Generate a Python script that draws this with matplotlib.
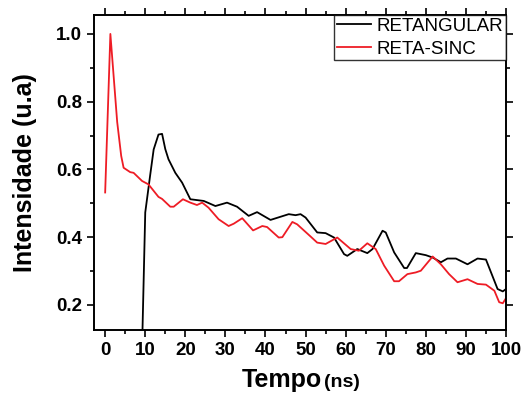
import matplotlib
matplotlib.use("Agg")
import matplotlib.pyplot as plt
from matplotlib.ticker import MultipleLocator

plt.rcParams['font.family'] = ['Liberation Sans', 'DejaVu Sans']

# RETANGULAR (black)
t_ret = [9.0, 9.3, 10.0, 11.25, 12.1, 13.3, 14.2, 15.0, 15.8, 17.5, 19.2, 21.25, 24.6,
         27.5, 30.4, 32.9, 35.8, 37.9, 41.25, 45.8, 47.5, 48.75, 50.0, 52.9, 55.0,
         57.1, 59.6, 60.4, 62.9, 65.4, 66.7, 69.2, 70.0, 72.1, 74.6, 75.3, 77.5,
         80.0, 81.7, 83.75, 85.4, 87.5, 90.4, 92.9, 95.0, 97.9, 99.2, 100.0]
i_ret = [0.02, 0.12, 0.473, 0.585, 0.659, 0.703, 0.705, 0.66, 0.63, 0.59, 0.561, 0.512, 0.507,
         0.492, 0.502, 0.49, 0.463, 0.474, 0.451, 0.468, 0.465, 0.468, 0.458, 0.414, 0.412,
         0.399, 0.35, 0.345, 0.365, 0.353, 0.365, 0.419, 0.414, 0.355, 0.309, 0.309, 0.353,
         0.347, 0.34, 0.326, 0.337, 0.337, 0.32, 0.337, 0.334, 0.247, 0.24, 0.247]

# RETA-SINC (red)
t_sinc = [0.0, 1.3, 3.0, 4.0, 4.6, 6.25, 7.1, 9.2, 10.8, 13.3, 14.2, 16.25, 17.1, 19.4,
          21.25, 22.9, 24.2, 25.8, 28.3, 30.8, 32.1, 34.2, 36.9, 39.2, 40.4, 43.3, 44.2,
          46.7, 47.9, 51.25, 52.9, 55.0, 57.9, 61.25, 63.3, 65.4, 67.5, 69.6, 72.1, 73.3,
          75.4, 77.5, 78.75, 81.7, 83.75, 85.8, 87.9, 90.4, 92.9, 95.0, 97.1, 98.3,
          99.2, 100.0]
i_sinc = [0.532, 1.0, 0.74, 0.64, 0.605, 0.592, 0.59, 0.566, 0.556, 0.519, 0.513, 0.49, 0.49, 0.512,
          0.502, 0.495, 0.502, 0.487, 0.453, 0.433, 0.44, 0.456, 0.42, 0.433, 0.43, 0.399, 0.40,
          0.445, 0.438, 0.402, 0.384, 0.38, 0.399, 0.365, 0.36, 0.382, 0.365, 0.316, 0.27, 0.27,
          0.291, 0.296, 0.301, 0.343, 0.32, 0.291, 0.267, 0.276, 0.262, 0.26, 0.242, 0.208,
          0.205, 0.22]

fig = plt.figure(figsize=(5.23, 3.94), dpi=100)
ax = fig.add_axes([0.18, 0.1624, 0.7875, 0.7996])

ax.plot(t_ret, i_ret, color='black', lw=1.3, label='RETANGULAR')
ax.plot(t_sinc, i_sinc, color='#ee1c25', lw=1.3, label='RETA-SINC')

ax.set_xlim(-2.75, 100)
ax.set_ylim(0.126, 1.056)
ax.xaxis.set_major_locator(MultipleLocator(10))
ax.xaxis.set_minor_locator(MultipleLocator(5))
ax.yaxis.set_major_locator(MultipleLocator(0.2))
ax.yaxis.set_minor_locator(MultipleLocator(0.1))
ax.yaxis.set_major_formatter(matplotlib.ticker.FormatStrFormatter('%.1f'))

ax.tick_params(which='both', direction='out', width=1.2, top=True, right=True)
ax.tick_params(which='major', length=5, labelsize=13.5)
ax.tick_params(which='minor', length=3)
for lab in ax.get_xticklabels() + ax.get_yticklabels():
    lab.set_fontweight('bold')
for s in ax.spines.values():
    s.set_linewidth(1.4)

ax.set_ylabel('Intensidade (u.a)', fontsize=18, fontweight='bold', labelpad=14)
ax.text(0.553, -0.181, 'Tempo', transform=ax.transAxes, fontsize=18, fontweight='bold',
        ha='right', va='baseline')
ax.text(0.558, -0.181, '(ns)', transform=ax.transAxes, fontsize=14, fontweight='bold',
        ha='left', va='baseline')

leg = ax.legend(loc='upper right', fontsize=13.5, frameon=True, fancybox=False,
                borderpad=0.15, handlelength=1.8, handletextpad=0.3, labelspacing=0.3,
                borderaxespad=0)
leg.get_frame().set_edgecolor('black')
leg.get_frame().set_linewidth(1.0)

fig.savefig('out.png', dpi=100)
